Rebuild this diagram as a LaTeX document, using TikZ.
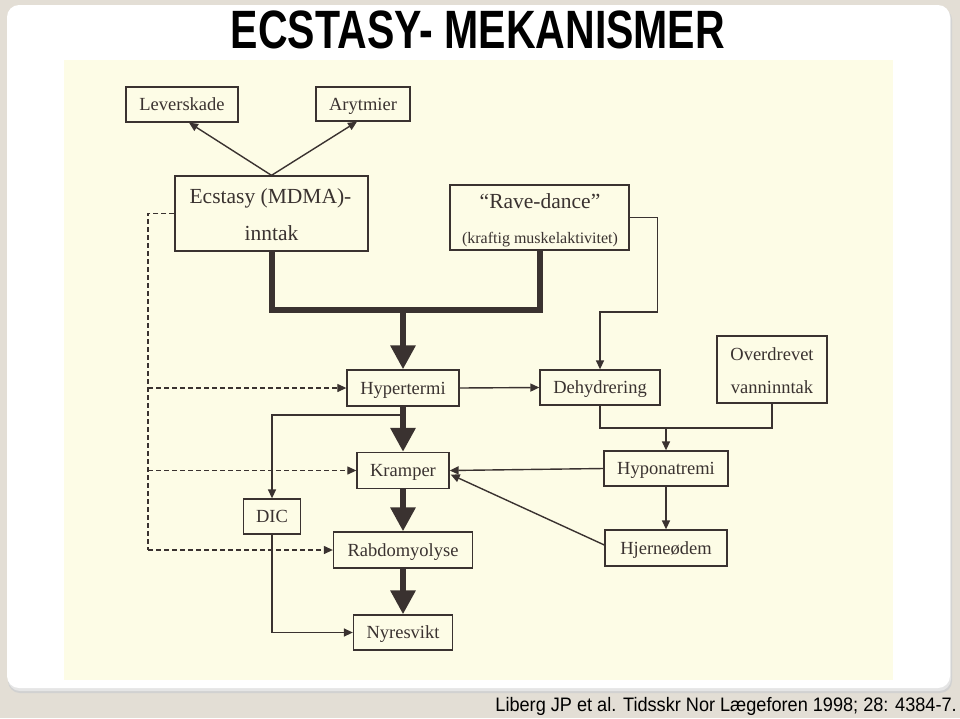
\documentclass[tikz,border=0pt]{standalone}
\usepackage{fontspec}
\setmainfont{Liberation Serif}
\newfontfamily\arialfont{Liberation Sans}
\usetikzlibrary{arrows.meta,calc}

\definecolor{slidebg}{HTML}{E3DED5}
\definecolor{paper}{HTML}{FDFCE6}
\definecolor{ink}{HTML}{3A3230}

\begin{document}
\begin{tikzpicture}[x=1pt,y=-1pt,
  box/.style={draw=ink, line width=1.3pt, fill=paper, inner sep=0pt,
    text height=12.5pt, text depth=0.5pt,
    font=\fontsize{18.5}{22}\selectfont, text=ink},
  txt/.style={inner sep=0pt, text=ink, anchor=base},
  thinarrow/.style={draw=ink, line width=1.4pt, -{Triangle[length=9pt,width=8pt]}},
  thinline/.style={draw=ink, line width=1.4pt},
  dashedarrow/.style={draw=ink, line width=1.2pt, dash pattern=on 5pt off 3pt, -{Triangle[length=9pt,width=8pt]}},
  dashedline/.style={draw=ink, line width=1.2pt, dash pattern=on 5pt off 3pt},
  thickline/.style={draw=ink, line width=6pt, line join=miter},
  thickarrow/.style={draw=ink, line width=6pt, -{Triangle[length=24pt,width=24pt]}},
]
% background slide
\useasboundingbox (0,0) rectangle (960,718);
\fill[slidebg] (0,0) rectangle (960,718);
\fill[black!18, rounded corners=12pt] (8,8) rectangle (952,693);
\fill[black!10, rounded corners=12pt] (8,7) rectangle (951,691);
\fill[white, rounded corners=12pt] (7,5) rectangle (950,688);
\fill[paper] (64,60) rectangle (893,680);

% title and citation
\node[inner sep=0pt, anchor=base] (title) at (478,48)
  {\arialfont\bfseries\fontsize{54}{60}\selectfont\scalebox{0.76}[1]{ECSTASY- MEKANISMER}};
\node[inner sep=0pt, anchor=base east] (cite) at (957,711)
  {\arialfont\fontsize{19.5}{22}\selectfont\scalebox{0.93}[1]{Liberg JP et al. Tidsskr Nor Lægeforen 1998; 28: 4384-7.}};

% boxes
\node[box, minimum width=112pt, minimum height=35pt] (lev) at (182,104.5) {Leverskade};
\node[box, minimum width=94pt, minimum height=34pt] (ary) at (363,104) {Arytmier};
\node[box, minimum width=193pt, minimum height=75pt] (ecs) at (271.5,213.5) {};
\node[txt, font=\fontsize{21.5}{24}\selectfont] (ecs1) at (270.5,203) {Ecstasy (MDMA)-};
\node[txt, font=\fontsize{21.5}{24}\selectfont] (ecs2) at (271.5,240) {inntak};
\node[box, minimum width=179pt, minimum height=65pt] (rave) at (539.5,217.5) {};
\node[txt, font=\fontsize{21.5}{24}\selectfont] (rave1) at (540,208) {“Rave-dance”};
\node[txt, font=\fontsize{16}{19}\selectfont] (rave2) at (540,243) {(kraftig muskelaktivitet)};
\node[box, minimum width=110pt, minimum height=67pt] (overd) at (772,369.5) {};
\node[txt, font=\fontsize{18.5}{22}\selectfont] (overd1) at (772,360) {Overdrevet};
\node[txt, font=\fontsize{18.5}{22}\selectfont] (overd2) at (772,393) {vanninntak};
\node[box, minimum width=112pt, minimum height=36pt] (hyper) at (403,388) {Hypertermi};
\node[box, minimum width=120pt, minimum height=35pt] (dehyd) at (600,387.5) {Dehydrering};
\node[box, minimum width=92pt, minimum height=36pt] (kramp) at (403,470.5) {Kramper};
\node[box, minimum width=124pt, minimum height=35pt] (hypon) at (666,468.5) {Hyponatremi};
\node[box, minimum width=57pt, minimum height=35pt] (dic) at (272,516.5) {DIC};
\node[box, minimum width=139pt, minimum height=36pt] (rabdo) at (403,550) {Rabdomyolyse};
\node[box, minimum width=122pt, minimum height=36pt] (hjern) at (666,548) {Hjerneødem};
\node[box, minimum width=99pt, minimum height=35pt] (nyres) at (403,632.5) {Nyresvikt};

% helper coordinates
\coordinate (j) at (403,310);
\coordinate (dl) at (148,0);

% Ecstasy to Leverskade / Arytmier
\draw[thinarrow] (ecs.north) -- ($(lev.south)+(7,0)$);
\draw[thinarrow] (ecs.north) -- ($(ary.south)+(-6,0)$);

% thick main pathway
\draw[thickline] (ecs.south) -- (ecs.south |- j) -- (rave.south |- j) -- (rave.south);
\draw[thickarrow] (j) -- (hyper.north);
\draw[thickarrow] (hyper.south) -- (kramp.north);
\draw[thickarrow] (kramp.south) -- (rabdo.north);
\draw[thickarrow] (rabdo.south) -- (nyres.north);

% Hypertermi -> Dehydrering
\draw[thinarrow] (hyper.east) -- (dehyd.west);

% Rave-dance -> Dehydrering
\draw[thinarrow] (rave.east) -- ++(28,0) coordinate (r1) -- (r1 |- 0,312) -- (dehyd.north |- 0,312) -- (dehyd.north);

% Dehydrering + Overdrevet -> Hyponatremi
\draw[thinline] (dehyd.south) -- (dehyd.south |- 0,428) -- (overd.south |- 0,428) -- (overd.south);
\draw[thinarrow] (hypon.north |- 0,428) -- (hypon.north);

% Hyponatremi -> Kramper, Hjerneodem -> Kramper
\draw[thinarrow] (hypon.west) -- (kramp.east);
\draw[thinarrow] ($(hjern.west)+(0,-3)$) -- ($(kramp.east)+(1,4)$);
\draw[thinarrow] (hypon.south) -- (hjern.north);

% Hypertermi -> DIC -> Nyresvikt
\draw[thinarrow] (hyper.south |- 0,415) -- (dic.north |- 0,415) -- (dic.north);
\draw[thinarrow] (dic.south) -- (dic.south |- nyres.west) -- (nyres.west);

% dashed links from Ecstasy
\draw[dashedline] (ecs.west) -- (dl |- ecs.west) -- (dl |- rabdo.west);
\draw[dashedarrow] (dl |- rabdo.west) -- (rabdo.west);
\draw[dashedarrow] (dl |- hyper.west) -- (hyper.west);
\draw[dashedarrow] (dl |- kramp.west) -- (kramp.west);
\end{tikzpicture}
\end{document}
